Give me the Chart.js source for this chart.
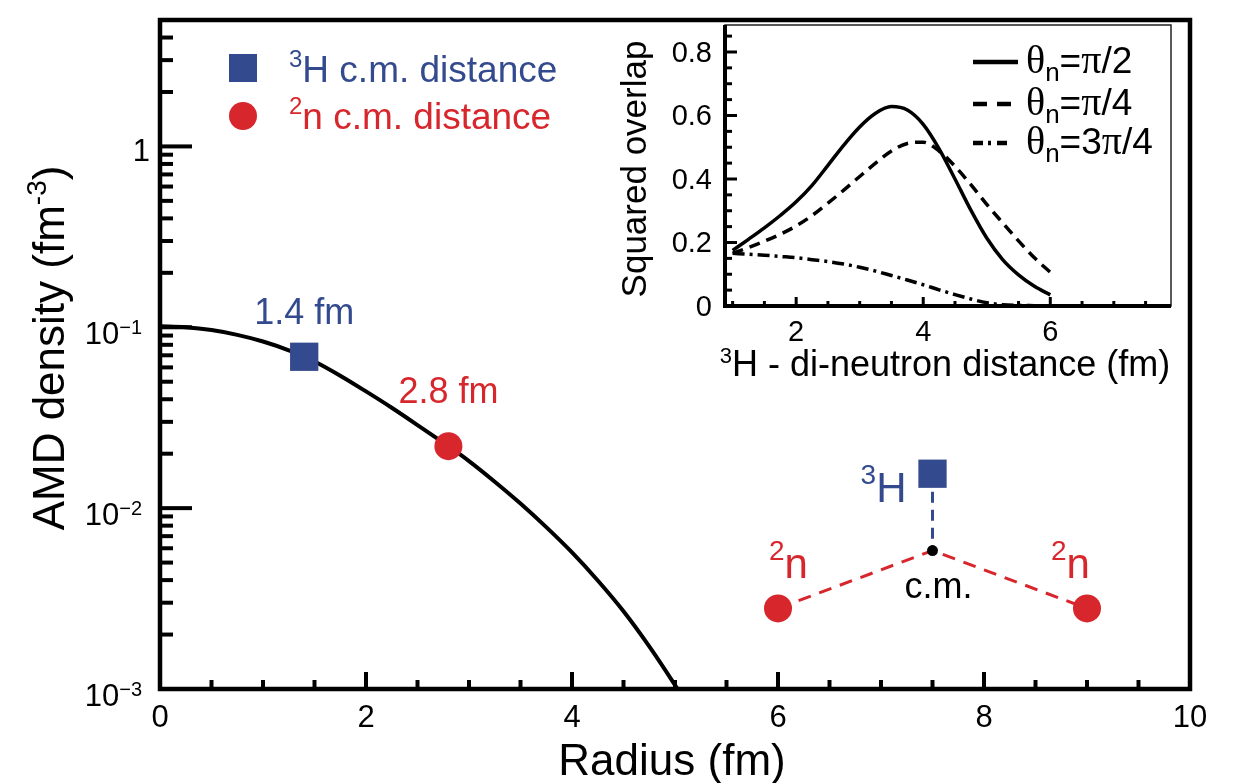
<!DOCTYPE html>
<html>
<head>
<meta charset="utf-8">
<script src="https://cdn.jsdelivr.net/npm/chart.js@4/dist/chart.umd.min.js"></script>
<style>
  body { margin: 0; background: #fff; }
  #wrap { position: relative; width: 1235px; height: 783px; }
  canvas { position: absolute; left: 0; top: 0; }
</style>
</head>
<body>
<div id="wrap">
  <canvas id="main" width="1235" height="783"></canvas>
  <canvas id="inset" width="1235" height="783"></canvas>
</div>
<script>
// AMD density profile (fm^-3) against radius (fm)
const radius = [0, 0.25, 0.5, 0.75, 1.0, 1.25, 1.4, 1.5, 1.75, 2.0, 2.25, 2.5, 2.75, 2.8, 3.0,
  3.25, 3.5, 3.75, 4.0, 4.25, 4.5, 4.75, 5.0, 5.25];
const density = [0.1012, 0.1000, 0.0965, 0.0908, 0.0834, 0.0746, 0.0687, 0.0647, 0.0540, 0.0442,
  0.0359, 0.0288, 0.0230, 0.0220, 0.0182, 0.0140, 0.0106, 0.00785, 0.00569, 0.00398, 0.00269,
  0.00172, 0.00105, 0.00062];

// c.m. distances marked on the profile
const tritonDist = [1.4];
const tritonDens = [0.0687];
const dineutronDist = [2.8];
const dineutronDens = [0.0220];

// little 3H + 2n + 2n sketch, placed in the empty corner of the plot
const sketchTritonX = [7.5];
const sketchTritonY = [0.0155];
const sketchCmX = [7.5];
const sketchCmY = [0.00583];
const sketchNeutronX = [6, 9];
const sketchNeutronY = [0.00279, 0.00279];

const xTickValues = [0, 2, 4, 6, 8, 10];
const yTickValues = [0.001, 0.01, 0.1, 1];
const yTickBases = ['10', '10', '10', '1'];
const yTickExps = ['\u22123', '\u22122', '\u22121', ''];

// inset: squared overlap vs 3H - di-neutron distance
const sepDist = [1.0, 1.25, 1.5, 1.75, 2.0, 2.25, 2.5, 2.75, 3.0, 3.25, 3.5, 3.75, 4.0,
  4.25, 4.5, 4.75, 5.0, 5.25, 5.5, 5.75, 6.0];
const overlapHalfPi = [0.175, 0.210, 0.246, 0.285, 0.328, 0.380, 0.443, 0.507, 0.564, 0.607,
  0.628, 0.617, 0.572, 0.495, 0.400, 0.302, 0.214, 0.146, 0.098, 0.062, 0.035];
const overlapQuarterPi = [0.166, 0.184, 0.204, 0.226, 0.252, 0.285, 0.324, 0.365, 0.408, 0.450,
  0.488, 0.512, 0.516, 0.488, 0.440, 0.382, 0.320, 0.262, 0.205, 0.152, 0.106];
const overlapThreeQuarterPi = [0.166, 0.163, 0.160, 0.156, 0.152, 0.146, 0.140, 0.132, 0.122,
  0.110, 0.096, 0.082, 0.067, 0.051, 0.036, 0.022, 0.010, 0.004, 0.002, 0.001, 0.0];
const overlapNames = [['', '/2'], ['', '/4'], ['3', '/4']];

const insetXTickValues = [2, 4, 6];
const insetYTickValues = [0, 0.2, 0.4, 0.6, 0.8];
const insetYTickLabels = ['0', '0.2', '0.4', '0.6', '0.8'];

const SANS = '"Liberation Sans", Arial, Helvetica, sans-serif';
const SERIF = '"Liberation Serif", "DejaVu Serif", serif';
const BLUE = '#344a8e';
const RED = '#d7262c';

function pts(xs, ys) {
  return xs.map((v, i) => ({ x: v, y: ys[i] }));
}

function seg(ctx, x1, y1, x2, y2) {
  ctx.beginPath();
  ctx.moveTo(x1, y1);
  ctx.lineTo(x2, y2);
  ctx.stroke();
}

// parts: [text, size, rise, family]
function drawRich(ctx, parts, x, y, align, gap) {
  gap = gap || 0;
  let w = 0;
  parts.forEach((p) => {
    ctx.font = p[1] + 'px ' + (p[3] || SANS);
    w += ctx.measureText(p[0]).width + gap;
  });
  w -= gap;
  let cx = align === 'right' ? x - w : align === 'center' ? x - w / 2 : x;
  ctx.textAlign = 'left';
  ctx.textBaseline = 'alphabetic';
  parts.forEach((p) => {
    ctx.font = p[1] + 'px ' + (p[3] || SANS);
    ctx.fillText(p[0], cx, y - (p[2] || 0));
    cx += ctx.measureText(p[0]).width + gap;
  });
}

const mainDecor = {
  id: 'mainDecor',
  afterDraw(chart) {
    const { ctx, chartArea: a } = chart;
    const x = chart.scales.x;
    const y = chart.scales.y;
    ctx.save();
    ctx.strokeStyle = '#000';
    ctx.fillStyle = '#000';
    ctx.lineWidth = 4.5;
    ctx.strokeRect(a.left, a.top, a.right - a.left, a.bottom - a.top);

    // ticks point into the plot
    ctx.lineWidth = 4;
    for (let i = 1; i < 20; i++) {
      const px = x.getPixelForValue(i / 2);
      seg(ctx, px, a.bottom, px, a.bottom - (i % 4 === 0 ? 17 : 9));
    }
    for (let e = -3; e <= 0; e++) {
      for (let m = 1; m <= 9; m++) {
        const v = m * Math.pow(10, e);
        if (v >= y.max) break;
        const py = y.getPixelForValue(v);
        seg(ctx, a.left, py, a.left + (m === 1 ? 32 : 13), py);
      }
    }

    ctx.font = '31px ' + SANS;
    ctx.textAlign = 'center';
    ctx.textBaseline = 'alphabetic';
    xTickValues.forEach((v) => {
      ctx.fillText(String(v), x.getPixelForValue(v), 727);
    });
    yTickValues.forEach((v, i) => {
      const py = y.getPixelForValue(v);
      if (yTickExps[i]) {
        drawRich(ctx, [[yTickBases[i], 31], [yTickExps[i], 20, 10]], 142, py + 17, 'right');
      } else {
        drawRich(ctx, [[yTickBases[i], 31]], 150, py + 15, 'right');
      }
    });

    drawRich(ctx, [['Radius (fm)', 44]], 672, 775, 'center');
    ctx.save();
    ctx.translate(64, 348);
    ctx.rotate(-Math.PI / 2);
    drawRich(ctx, [['AMD density (fm', 44], ['-3', 28, 18], [')', 44]], 0, 0, 'center');
    ctx.restore();

    // legend
    ctx.fillStyle = BLUE;
    ctx.fillRect(229, 54, 28, 28);
    drawRich(ctx, [['3', 24, 15], ['H c.m. distance', 37]], 289, 82, 'left');
    ctx.fillStyle = RED;
    ctx.beginPath();
    ctx.arc(243, 116, 14, 0, Math.PI * 2);
    ctx.fill();
    drawRich(ctx, [['2', 24, 15], ['n c.m. distance', 37]], 289, 129, 'left');

    // distance labels above the markers
    const tx = x.getPixelForValue(tritonDist[0]);
    const ty = y.getPixelForValue(tritonDens[0]);
    ctx.fillStyle = BLUE;
    drawRich(ctx, [['1.4 fm', 36]], tx, ty - 33, 'center');
    const nx = x.getPixelForValue(dineutronDist[0]);
    const ny = y.getPixelForValue(dineutronDens[0]);
    ctx.fillStyle = RED;
    drawRich(ctx, [['2.8 fm', 36]], nx, ny - 43, 'center');

    // sketch labels
    const sx = x.getPixelForValue(sketchTritonX[0]);
    const sy = y.getPixelForValue(sketchTritonY[0]);
    ctx.fillStyle = BLUE;
    drawRich(ctx, [['3', 28, 18], ['H', 42]], sx - 26, sy + 28, 'right');
    ctx.fillStyle = RED;
    const lx = x.getPixelForValue(sketchNeutronX[0]);
    const rx = x.getPixelForValue(sketchNeutronX[1]);
    const ly = y.getPixelForValue(sketchNeutronY[0]);
    drawRich(ctx, [['2', 28, 18], ['n', 42]], lx - 9, ly - 30, 'left');
    drawRich(ctx, [['2', 28, 18], ['n', 42]], rx - 36, ly - 30, 'left');
    ctx.fillStyle = '#000';
    const cy = y.getPixelForValue(sketchCmY[0]);
    drawRich(ctx, [['c.m.', 36]], x.getPixelForValue(sketchCmX[0]) + 6, cy + 47, 'center');
    ctx.restore();
  },
};

new Chart(document.getElementById('main'), {
  type: 'line',
  data: {
    datasets: [
      {
        data: pts(tritonDist, tritonDens),
        showLine: false,
        pointStyle: 'rect',
        pointRadius: 20,
        pointBorderWidth: 0,
        pointBackgroundColor: BLUE,
      },
      {
        data: pts(dineutronDist, dineutronDens),
        showLine: false,
        pointStyle: 'circle',
        pointRadius: 14,
        pointBorderWidth: 0,
        pointBackgroundColor: RED,
      },
      {
        data: pts(sketchTritonX, sketchTritonY),
        showLine: false,
        pointStyle: 'rect',
        pointRadius: 20,
        pointBorderWidth: 0,
        pointBackgroundColor: BLUE,
      },
      {
        data: pts(sketchNeutronX, sketchNeutronY),
        showLine: false,
        pointStyle: 'circle',
        pointRadius: 14,
        pointBorderWidth: 0,
        pointBackgroundColor: RED,
      },
      {
        data: pts(sketchCmX, sketchCmY),
        showLine: false,
        pointRadius: 5.5,
        pointBorderWidth: 0,
        pointBackgroundColor: '#000',
      },
      {
        data: pts(sketchTritonX.concat(sketchCmX), sketchTritonY.concat(sketchCmY)),
        borderColor: BLUE,
        borderWidth: 3,
        borderDash: [11, 7],
        pointRadius: 0,
      },
      {
        data: pts([sketchNeutronX[0], sketchCmX[0], sketchNeutronX[1]],
          [sketchNeutronY[0], sketchCmY[0], sketchNeutronY[1]]),
        borderColor: RED,
        borderWidth: 3,
        borderDash: [13, 9],
        pointRadius: 0,
      },
      {
        data: pts(radius, density),
        borderColor: '#000',
        borderWidth: 4,
        pointRadius: 0,
        cubicInterpolationMode: 'monotone',
      },
    ],
  },
  options: {
    responsive: false,
    animation: false,
    layout: { padding: { left: 160, right: 45, top: 12, bottom: 94 } },
    plugins: { legend: { display: false }, tooltip: { enabled: false } },
    scales: {
      x: { type: 'linear', min: 0, max: 10, display: false },
      y: { type: 'logarithmic', min: 0.001, max: 5, display: false },
    },
  },
  plugins: [mainDecor],
});

const insetDecor = {
  id: 'insetDecor',
  afterDraw(chart) {
    const { ctx, chartArea: a } = chart;
    const x = chart.scales.x;
    const y = chart.scales.y;
    ctx.save();
    ctx.strokeStyle = '#222';
    ctx.lineWidth = 1.5;
    ctx.strokeRect(a.left, a.top, a.right - a.left, a.bottom - a.top);
    ctx.strokeStyle = '#000';
    ctx.lineWidth = 4;
    seg(ctx, a.left, a.top, a.left, a.bottom + 2);
    seg(ctx, a.left - 2, a.bottom, a.right, a.bottom);

    ctx.lineWidth = 3;
    for (let i = 0; i <= 17; i++) {
      const py = y.getPixelForValue(i * 0.05);
      seg(ctx, a.left, py, a.left + (i % 4 === 0 ? 12 : 7), py);
    }
    for (let i = 2; i <= 15; i++) {
      const px = x.getPixelForValue(i / 2);
      seg(ctx, px, a.bottom, px, a.bottom - (i % 4 === 0 ? 9 : 5));
    }

    ctx.fillStyle = '#000';
    insetYTickValues.forEach((v, i) => {
      drawRich(ctx, [[insetYTickLabels[i], 29]], 712, y.getPixelForValue(v) + 10, 'right');
    });
    insetXTickValues.forEach((v) => {
      drawRich(ctx, [[String(v), 29]], x.getPixelForValue(v), 341, 'center');
    });
    drawRich(ctx, [['3', 22, 13], ['H - di-neutron distance (fm)', 36]], 945, 376, 'center');
    ctx.save();
    ctx.translate(646, 169);
    ctx.rotate(-Math.PI / 2);
    drawRich(ctx, [['Squared overlap', 35]], 0, 0, 'center');
    ctx.restore();

    // legend, short samples of each line style
    const rows = [62, 104, 143];
    const sampleDash = [[], [14, 10], [10, 5, 3, 6]];
    const sampleEnd = [1018, 1011, 1008];
    overlapNames.forEach((nm, i) => {
      ctx.lineWidth = 4.5;
      ctx.setLineDash(sampleDash[i]);
      seg(ctx, 973, rows[i], sampleEnd[i], rows[i]);
      ctx.setLineDash([]);
      drawRich(ctx, [['\u03b8', 40, 0, SERIF], ['n', 26, -8], ['=' + nm[0], 37],
        ['\u03c0', 40, 0, SERIF], [nm[1], 37]], 1026, rows[i] + 11, 'left');
    });
    ctx.restore();
  },
};

new Chart(document.getElementById('inset'), {
  type: 'line',
  data: {
    datasets: [
      {
        data: pts(sepDist, overlapHalfPi),
        borderColor: '#000',
        borderWidth: 3.5,
        pointRadius: 0,
        cubicInterpolationMode: 'monotone',
      },
      {
        data: pts(sepDist, overlapQuarterPi),
        borderColor: '#000',
        borderWidth: 3.5,
        borderDash: [11, 7],
        pointRadius: 0,
        cubicInterpolationMode: 'monotone',
      },
      {
        data: pts(sepDist, overlapThreeQuarterPi),
        borderColor: '#000',
        borderWidth: 3.5,
        borderDash: [12, 5, 3, 5],
        pointRadius: 0,
        cubicInterpolationMode: 'monotone',
      },
    ],
  },
  options: {
    responsive: false,
    animation: false,
    layout: { padding: { left: 725, right: 64, top: 25, bottom: 477 } },
    plugins: { legend: { display: false }, tooltip: { enabled: false } },
    scales: {
      x: { type: 'linear', min: 0.88, max: 7.9, display: false },
      y: { type: 'linear', min: 0, max: 0.885, display: false },
    },
  },
  plugins: [insetDecor],
});
</script>
</body>
</html>
